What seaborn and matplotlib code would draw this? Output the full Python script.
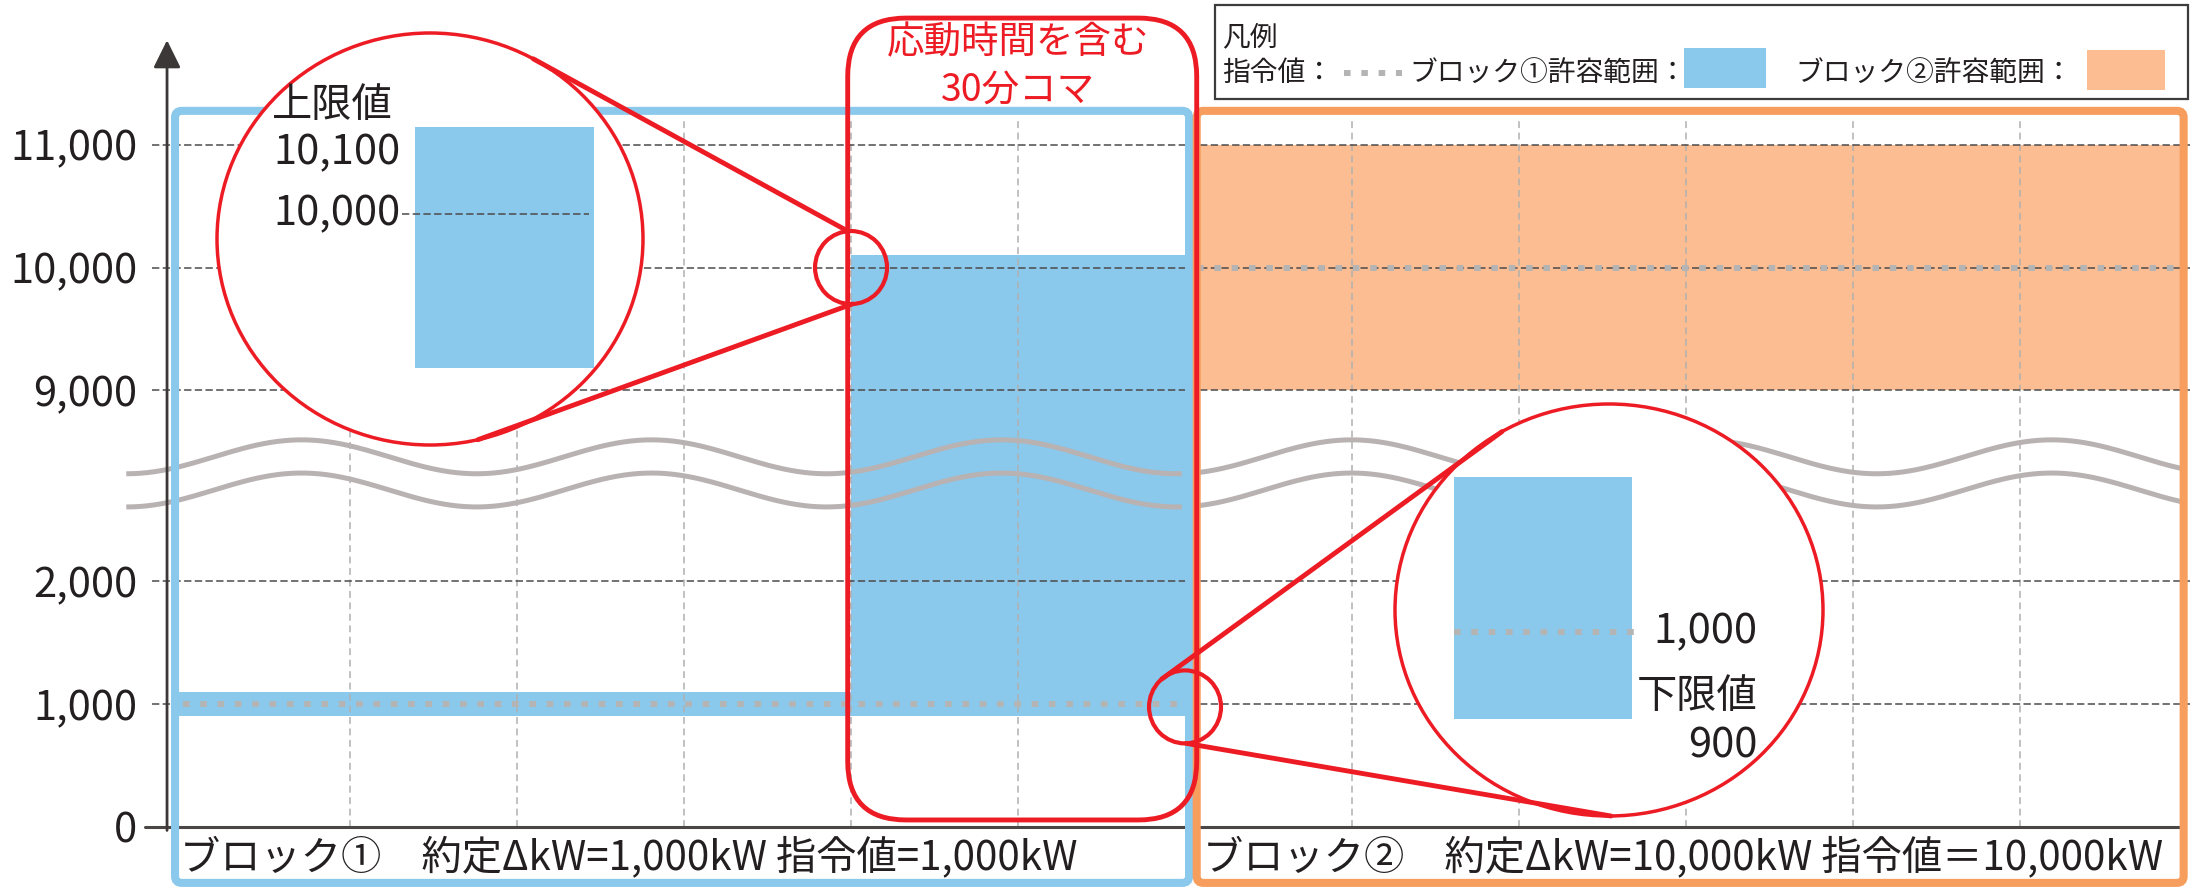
import numpy as np
import pandas as pd
import matplotlib
matplotlib.use('Agg')
import matplotlib.pyplot as plt
import seaborn as sns
from matplotlib.patches import FancyBboxPatch, Ellipse, Rectangle, ConnectionPatch
from matplotlib.lines import Line2D

# --- データ ---
y_ticks = [0, 1000, 2000, 9000, 10000, 11000]
y_tick_labels = ['0', '1,000', '2,000', '9,000', '10,000', '11,000']
slot_lines = [1, 2, 3, 4, 5, 7, 8, 9, 10, 11]

# ブロック① 許容範囲 (コマ開始, コマ終了, 下限, 上限)
blk1_start = [0, 4]
blk1_end = [4, 6]
blk1_lower = [900, 900]
blk1_upper = [1100, 10100]
blk1_cmd = 1000

# ブロック② 許容範囲
blk2_start = [6]
blk2_end = [12]
blk2_lower = [9000]
blk2_upper = [11000]
blk2_cmd = 10000

blk_labels = ['ブロック①\u3000約定ΔkW=1,000kW 指令値=1,000kW',
              'ブロック②\u3000約定ΔkW=10,000kW 指令値＝10,000kW']

RED = '#ED1C24'
BLUE = '#8AC8EC'
ORANGE = '#FBBD91'
ORANGE_EDGE = '#F79D5E'
CMD_GRAY = '#B4B4B4'
WAVE_GRAY = '#B9B2B2'
DARK = '#4D4A4A'
TXT = '#231F20'
CMD_LS = (0, (1.1, 1.8))

# 縦軸の省略部分 (2,000〜9,000) を詰めるためのスケール
BRK_KW = [-5000, 2000, 9000, 20000]
BRK_POS = [-5.0, 2.0, 3.55, 14.55]


def fwd(v):
    return np.interp(v, BRK_KW, BRK_POS)


def inv(p):
    return np.interp(p, BRK_POS, BRK_KW)


sns.set_theme(style='white')
plt.rcParams['font.family'] = ['Noto Sans CJK JP', 'DejaVu Sans']

fig = plt.figure(figsize=(21.9, 8.91), dpi=100)
ax = fig.add_axes([150 / 2190, 0, 2040 / 2190, 1])
ax.set_yscale('function', functions=(fwd, inv))

# 指令値 (グレー点線)
cmd_df = pd.DataFrame({'x': [0, 6.02, 6.07, 12.0],
                       'kw': [blk1_cmd, blk1_cmd, blk2_cmd, blk2_cmd],
                       'blk': [1, 1, 2, 2]})
sns.lineplot(data=cmd_df, x='x', y='kw', units='blk', estimator=None, ax=ax,
             color=CMD_GRAY, lw=4.3, linestyle=CMD_LS, dash_capstyle='butt',
             zorder=5, legend=False)

# 許容範囲の塗り
fl, fr1, fl2, fr2 = -0.048, 6.024, 6.07, 11.98
for i, (s, e, lo, hi) in enumerate(zip(blk1_start, blk1_end, blk1_lower, blk1_upper)):
    xs = [fl if s == 0 else s, fr1 if e == 6 else e]
    ax.fill_between(xs, lo, hi, color=BLUE, lw=0, zorder=2)
for s, e, lo, hi in zip(blk2_start, blk2_end, blk2_lower, blk2_upper):
    ax.fill_between([fl2, fr2], lo, hi, color=ORANGE, lw=0, zorder=2)

# 横の破線
for t in y_ticks[1:]:
    ax.plot([-0.186, 12.03], [t, t], color=DARK, lw=1.1, ls=(0, (4.8, 2.2)),
            zorder=1.5 if t == blk1_cmd else 3)

# 縦の補助線
ax.vlines(slot_lines, 0, 11200, colors='#B0B0B0', lw=1.1, linestyles=(0, (4.5, 3)), zorder=2.5)

# 波線 (軸の省略記号)
for c in [3.01, 2.74]:
    for uu in (np.linspace(-0.34, 5.98, 300), np.linspace(6.07, 11.98, 300)):
        ax.plot(uu, inv(c + 0.138 * np.cos(2 * np.pi * (uu - 0.71) / 2.096)),
                color=WAVE_GRAY, lw=3.6, zorder=4, clip_on=False, solid_capstyle='butt')

# 軸
ax.plot([-0.228, 11.99], [0, 0], color='#4A4646', lw=2.2, zorder=6, clip_on=False)
ax.annotate('', xy=(-0.096, inv(6.40)), xytext=(-0.096, inv(-0.03)),
            arrowprops=dict(arrowstyle='-|>,head_length=0.85,head_width=0.42',
                            mutation_scale=20, color='#3D3838', lw=2, shrinkA=0, shrinkB=0),
            annotation_clip=False, zorder=8)

# ブロック枠
asp = 167 / 122.9 * 1000
for x0, x1, col in [(fl, fr1, BLUE), (fl2, fr2, ORANGE_EDGE)]:
    ax.add_patch(FancyBboxPatch((x0, -457), x1 - x0, 11275 + 457,
                                boxstyle='round,pad=0,rounding_size=0.04', mutation_aspect=asp,
                                fc='none', ec=col, lw=5.8, zorder=7))

ax.text(-0.02, -245, blk_labels[0], fontsize=29, color=TXT, ha='left', va='center', zorder=10)
ax.text(6.11, -245, blk_labels[1], fontsize=29, color=TXT, ha='left', va='center', zorder=10)

# 応動時間を含む30分コマ
ax.add_patch(FancyBboxPatch((3.98, 55), 6.07 - 3.98, 12030 - 55,
                            boxstyle='round,pad=0,rounding_size=0.35', mutation_aspect=asp,
                            fc='none', ec=RED, lw=3.5, zorder=9))
ax.text(5.0, 11830, '応動時間を含む', fontsize=27, color=RED, ha='center', va='center', zorder=10)
ax.text(5.0, 11440, '30分コマ', fontsize=27, color=RED, ha='center', va='center', zorder=10)

# 拡大箇所の小円
c1 = (4.0, blk2_cmd)
c2 = (6.0, 975)
rx, ry = 0.2155, 297
for c in (c1, c2):
    ax.add_patch(Ellipse(c, 2 * rx, 2 * ry, fc='none', ec=RED, lw=3, zorder=9))

ax.set_xlim(-0.198, 12.018)
ax.set_ylim(inv(-0.523), inv(6.727))
ax.set_yticks(y_ticks)
ax.set_yticklabels(y_tick_labels)
ax.set_xticks([])
ax.set_xlabel('')
ax.set_ylabel('')
ax.tick_params(axis='y', length=0, pad=9, labelsize=30, labelcolor=TXT)
for sp in ax.spines.values():
    sp.set_visible(False)


# 拡大図
def add_inset(rect, ylim):
    axi = fig.add_axes(rect, zorder=5)
    axi.set_xlim(0, 1)
    axi.set_ylim(*ylim)
    axi.set_axis_off()
    ell = Ellipse((0.5, 0.5), 1, 1, transform=axi.transAxes, fc='white', ec=RED,
                  lw=2.5, clip_on=False, zorder=0)
    axi.add_patch(ell)
    return axi, ell


ax1, e1 = add_inset([217 / 2190, 1 - 445 / 891, 426 / 2190, 412 / 891], (9734, 10208))
p = ax1.fill_between([0.465, 0.885], 9823, blk1_upper[1], color=BLUE, lw=0, zorder=1)
p.set_clip_path(e1)
ax1.plot([0.434, 0.874], [blk2_cmd, blk2_cmd], color=DARK, lw=1.1, ls=(0, (4.8, 2.2)), zorder=2)
ax1.text(0.129, 10125, '上限値', fontsize=29, color=TXT, ha='left', va='center', zorder=3)
ax1.text(0.43, 10070, '10,100', fontsize=30, color=TXT, ha='right', va='center', zorder=3)
ax1.text(0.43, 10000, '10,000', fontsize=30, color=TXT, ha='right', va='center', zorder=3)

ax2, e2 = add_inset([1395 / 2190, 1 - 816 / 891, 428 / 2190, 412 / 891], (788, 1262))
p = ax2.fill_between([0.138, 0.554], blk1_lower[1], 1178, color=BLUE, lw=0, zorder=1)
p.set_clip_path(e2)
ax2.plot([0.138, 0.56], [blk1_cmd, blk1_cmd], color=CMD_GRAY, lw=4.3, ls=CMD_LS,
         dash_capstyle='butt', zorder=2)
ax2.text(0.846, 1000, '1,000', fontsize=30, color=TXT, ha='right', va='center', zorder=3)
ax2.text(0.846, 925, '下限値', fontsize=29, color=TXT, ha='right', va='center', zorder=3)
ax2.text(0.846, 868, '900', fontsize=30, color=TXT, ha='right', va='center', zorder=3)


def small_pt(c, ang):
    a = np.radians(ang)
    return (c[0] + rx * np.cos(a), c[1] + ry * np.sin(a))


def big_pt(ang):
    a = np.radians(ang)
    return (0.5 + 0.5 * np.cos(a), 0.5 + 0.5 * np.sin(a))


for c, axi, a_small, a_big in [(c1, ax1, 95, 61), (c1, ax1, -88, -77),
                               (c2, ax2, 130, 120), (c2, ax2, -88, -89.5)]:
    cp = ConnectionPatch(xyA=small_pt(c, a_small), coordsA=ax.transData,
                         xyB=big_pt(a_big), coordsB=axi.transAxes,
                         color=RED, lw=3.5, zorder=10)
    fig.add_artist(cp)

# 凡例
def fx(px):
    return px / 2190


def fy(py):
    return 1 - py / 891


fig.add_artist(Rectangle((fx(1215), fy(99)), fx(2188) - fx(1215), fy(5) - fy(99),
                         transform=fig.transFigure, fc='white', ec='#3C3C3C', lw=1.6, zorder=1))
fig.text(fx(1222), fy(37), '凡例', fontsize=20, color=TXT, ha='left', va='center', zorder=2)
fig.text(fx(1222), fy(73), '指令値：', fontsize=20, color=TXT, ha='left', va='center', zorder=2)
fig.add_artist(Line2D([fx(1344), fx(1402)], [fy(73), fy(73)], transform=fig.transFigure,
                      color=CMD_GRAY, lw=4.3, ls=CMD_LS, dash_capstyle='butt', zorder=2))
fig.text(fx(1409), fy(73), 'ブロック①許容範囲：', fontsize=20, color=TXT, ha='left', va='center', zorder=2)
fig.add_artist(Rectangle((fx(1684), fy(88)), fx(1766) - fx(1684), fy(48) - fy(88),
                         transform=fig.transFigure, fc=BLUE, ec='none', zorder=2))
fig.text(fx(1795), fy(73), 'ブロック②許容範囲：', fontsize=20, color=TXT, ha='left', va='center', zorder=2)
fig.add_artist(Rectangle((fx(2087), fy(90)), fx(2165) - fx(2087), fy(50) - fy(90),
                         transform=fig.transFigure, fc=ORANGE, ec='none', zorder=2))

fig.savefig('out.png', dpi=100, facecolor='white')
